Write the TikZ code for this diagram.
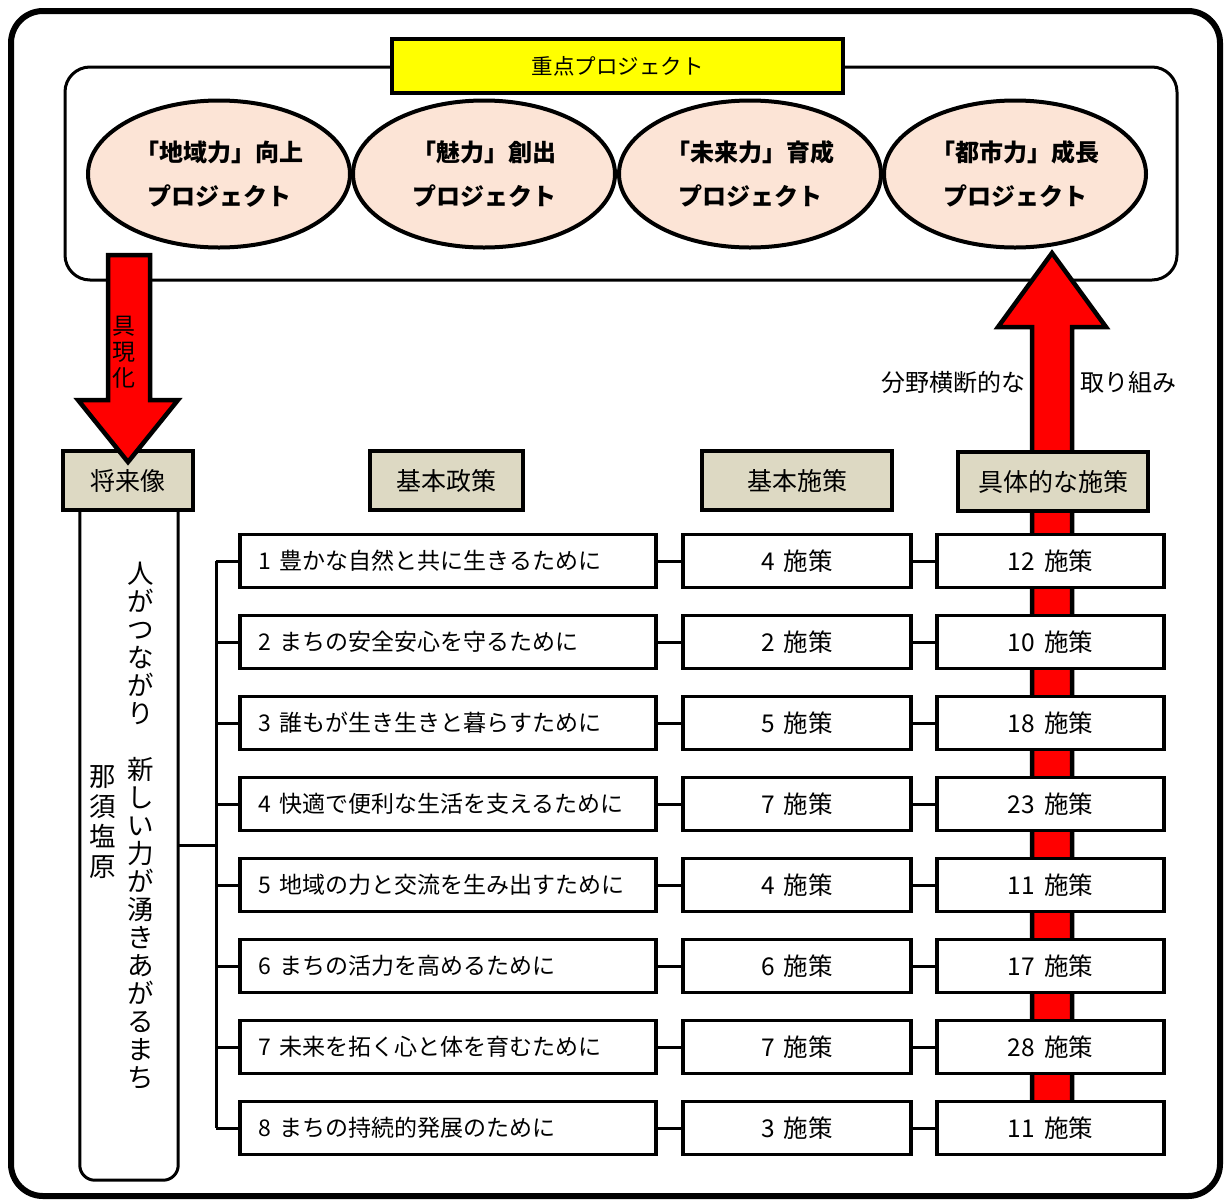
\documentclass[tikz,border=0pt]{standalone}
\usepackage{fontspec}
\setmainfont{Noto Sans CJK JP}
\usetikzlibrary{shapes.geometric}
\definecolor{hdrfill}{HTML}{DDD9C3}
\definecolor{peach}{HTML}{FCE4D6}
\definecolor{ttlyellow}{HTML}{FFFF00}
\definecolor{arrred}{HTML}{FF0000}
\newcommand\numgap{\hspace{0.38em}}
\begin{document}
\begin{tikzpicture}[x=1pt,y=-1pt,
  hdr/.style={draw, line width=4pt, fill=hdrfill, inner sep=0pt, minimum height=59pt, font=\fontsize{25}{30}\selectfont},
  pol/.style={draw, line width=3.5pt, fill=white, minimum height=53pt, text width=380pt, inner xsep=18pt, inner ysep=0pt, align=left, font=\fontsize{23}{28}\selectfont},
  cnt/.style={draw, line width=3.5pt, fill=white, minimum height=53pt, inner sep=0pt, font=\fontsize{24.5}{28}\selectfont},
  proj/.style={ellipse, draw, line width=4pt, fill=peach, minimum width=262pt, minimum height=147pt, inner sep=0pt, align=center, font=\bfseries\fontsize{24}{44}\selectfont},
  link/.style={line width=3pt},
  bigarrow/.style={draw, line width=4.5pt, fill=arrred, line join=miter},
  lbl/.style={inner sep=0pt, font=\fontsize{24}{28}\selectfont}
]
\useasboundingbox (0,0) rectangle (1228,1200);
% outer frame
\draw[line width=6pt, rounded corners=32pt] (11,11) rectangle (1220,1196);
% priority projects frame
\draw[line width=3pt, rounded corners=25pt] (65,67) rectangle (1177,280);
\node[draw, line width=4pt, fill=ttlyellow, minimum width=451pt, minimum height=54pt, inner sep=0pt, font=\fontsize{21.5}{26}\selectfont] (title) at (617.5,66) {重点プロジェクト};
\node[proj] (p1) at (219,174) {「地域力」向上\\プロジェクト};
\node[proj] (p2) at (484,174) {「魅力」創出\\プロジェクト};
\node[proj] (p3) at (750,174) {「未来力」育成\\プロジェクト};
\node[proj] (p4) at (1015,174) {「都市力」成長\\プロジェクト};
% right big arrow (behind boxes)
\coordinate (ra) at (1052,253);
\draw[bigarrow] (1032,1128) -- (1032,327) -- (998,327) -- (ra) -- (1106,327) -- (1072,327) -- (1072,1128) -- cycle;
\node[lbl, anchor=east] (l1) at (1026,382) {分野横断的な};
\node[lbl, anchor=west] (l2) at (1080,382) {取り組み};
% vertical vision box
\node[minimum width=98pt, minimum height=669pt, inner sep=0pt] (vbox) at (129,845.5) {};
\draw[line width=3pt, rounded corners=15pt] (vbox.north west) -- (vbox.south west) -- (vbox.south east) -- (vbox.north east);
\node[inner sep=0pt, align=center, font=\fontsize{26.5}{28}\selectfont] (vt1) at (141,826) {人\\が\\つ\\な\\が\\り\\\phantom{人}\\新\\し\\い\\力\\が\\湧\\き\\あ\\が\\る\\ま\\ち};
\node[inner sep=0pt, align=center, font=\fontsize{26.5}{30}\selectfont] (vt2) at (103,822) {那\\須\\塩\\原};
% headers
\node[hdr, minimum width=130pt] (h1) at (128,480.5) {将来像};
\node[hdr, minimum width=153pt] (h2) at (446.5,480.5) {基本政策};
\node[hdr, minimum width=190pt] (h3) at (797,480.5) {基本施策};
\node[hdr, minimum width=190pt] (h4) at (1053,481.5) {具体的な施策};
% rows
\foreach \i/\p/\m/\r in {1/豊かな自然と共に生きるために/4/12,
                         2/まちの安全安心を守るために/2/10,
                         3/誰もが生き生きと暮らすために/5/18,
                         4/快適で便利な生活を支えるために/7/23,
                         5/地域の力と交流を生み出すために/4/11,
                         6/まちの活力を高めるために/6/17,
                         7/未来を拓く心と体を育むために/7/28,
                         8/まちの持続的発展のために/3/11}{
  \node[pol] (pol\i) at (448,480+81*\i) {\i\numgap\p};
  \node[cnt, minimum width=228pt] (mid\i) at (797,480+81*\i) {\m\numgap 施策};
  \node[cnt, minimum width=227pt] (rt\i) at (1050.5,480+81*\i) {\r\numgap 施策};
  \draw[link] (pol\i.east) -- (mid\i.west);
  \draw[link] (mid\i.east) -- (rt\i.west);
  \draw[link] (pol\i.west) -- ++(-22,0);
}
\draw[link] ([xshift=-22pt]pol1.west) -- ([xshift=-22pt]pol8.west);
\coordinate (bus) at (218,845);
\draw[link] (vbox.east |- bus) -- (bus);
% left big arrow
\coordinate (la) at (128,462);
\draw[bigarrow] (108,255) -- (150,255) -- (150,400) -- (178,400) -- (la) -- (78,400) -- (108,400) -- cycle;
\node[inner sep=0pt, align=center, font=\fontsize{23}{26}\selectfont] (gk) at (123.5,352) {具\\現\\化};
\end{tikzpicture}
\end{document}
